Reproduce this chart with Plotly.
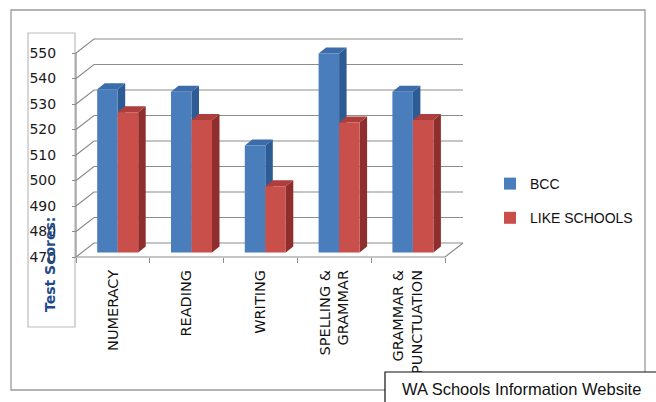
import plotly.graph_objects as go

# ---- data -------------------------------------------------------------
categories = ["NUMERACY", "READING", "WRITING",
              "SPELLING &<br>GRAMMAR", "GRAMMAR &<br>PUNCTUATION"]
bcc_scores = [534, 533, 512, 548, 533]
like_school_scores = [525, 522, 496, 521, 522]
score_ticks = [470, 480, 490, 500, 510, 520, 530, 540, 550]
series_names = ["BCC", "LIKE SCHOOLS"]

# ---- page / pseudo-3D projection settings ------------------------------
W, H = 656, 402
PX_PER_CAT = 73.8          # horizontal pixels per category slot
PX_PER_UNIT = 2.55         # vertical pixels per score point
AXIS_X_PX, FLOOR_Y_PX = 76, 257
Y_MIN = score_ticks[0]
Y_MAX = score_ticks[-1]

x_range = [-0.5 - AXIS_X_PX / PX_PER_CAT, -0.5 + (W - AXIS_X_PX) / PX_PER_CAT]
y_range = [Y_MIN - (H - FLOOR_Y_PX) / PX_PER_UNIT, Y_MIN + FLOOR_Y_PX / PX_PER_UNIT]

# depth of the back wall, and of the plane the columns stand in
WALL_DX, WALL_DY = 18 / PX_PER_CAT, 14 / PX_PER_UNIT
BAR_OX, BAR_OY = 0.065, 4.5 / PX_PER_UNIT
BAR_W = 20.5 / PX_PER_CAT
BAR_DX, BAR_DY = 7.5 / PX_PER_CAT, 6 / PX_PER_UNIT

n = len(categories)
left, right = -0.5, n - 0.5

GRID = "#8C8C8C"
COLORS = {
    "BCC": ("#4A7DBB", "#2D5C94", "#3C6DAA"),
    "LIKE SCHOOLS": ("#C94F4B", "#8F2F2D", "#AE3E3B"),
}

fig = go.Figure()

# back wall grid lines with the diagonal on the side wall
gx, gy = [], []
for v in score_ticks:
    gx += [left, left + WALL_DX, right + WALL_DX, None]
    gy += [v, v + WALL_DY, v + WALL_DY, None]
# floor front edge and right diagonal, plus the value axis line
gx += [left, right, right + WALL_DX, None, left, left]
gy += [Y_MIN, Y_MIN, Y_MIN + WALL_DY, None, Y_MIN, Y_MAX]
fig.add_trace(go.Scatter(x=gx, y=gy, mode="lines", line=dict(color=GRID, width=1.2),
                         hoverinfo="skip", showlegend=False, zorder=0))

base = Y_MIN + BAR_OY
for k, (name, vals) in enumerate(zip(series_names, [bcc_scores, like_school_scores])):
    front, side, top = COLORS[name]
    off = BAR_OX - BAR_W if k == 0 else BAR_OX
    sx, sy, tx, ty = [], [], [], []
    for i, v in enumerate(vals):
        x0 = i + off
        x1 = x0 + BAR_W
        t = v + BAR_OY
        sx += [x1, x1 + BAR_DX, x1 + BAR_DX, x1, x1, None]
        sy += [base, base + BAR_DY, t + BAR_DY, t, base, None]
        tx += [x0, x1, x1 + BAR_DX, x0 + BAR_DX, x0, None]
        ty += [t, t, t + BAR_DY, t + BAR_DY, t, None]
    z = 1 + 2 * k
    fig.add_trace(go.Scatter(x=sx, y=sy, fill="toself", fillcolor=side, mode="lines",
                             line=dict(width=0, color=side), hoverinfo="skip",
                             showlegend=False, zorder=z))
    fig.add_trace(go.Scatter(x=tx, y=ty, fill="toself", fillcolor=top, mode="lines",
                             line=dict(width=0, color=top), hoverinfo="skip",
                             showlegend=False, zorder=z))
    fig.add_trace(go.Bar(x=list(range(n)), y=[v - Y_MIN for v in vals], base=base,
                         offset=off, width=BAR_W, name=name,
                         marker=dict(color=front, line=dict(width=0)),
                         legendgroup=name, zorder=z + 1,
                         hovertemplate="%{customdata}<extra></extra>",
                         customdata=vals))

# category labels live on an overlaid axis
fig.add_trace(go.Scatter(x=list(range(n)), y=[None] * n, xaxis="x2", mode="markers",
                         showlegend=False, hoverinfo="skip"))

def px(x):
    return x / W

def py(y):
    return 1 - y / H

axis_pos_y = py(FLOOR_Y_PX)

fig.update_layout(
    width=W, height=H,
    margin=dict(l=0, r=0, t=0, b=0),
    paper_bgcolor="white", plot_bgcolor="rgba(0,0,0,0)",
    barmode="overlay",
    font=dict(family="DejaVu Sans", size=14, color="#1A1A1A"),
    xaxis=dict(domain=[0, 1], range=x_range, anchor="free", position=axis_pos_y,
               tickvals=[left + i for i in range(n + 1)], ticktext=[""] * (n + 1),
               ticks="outside", ticklen=5, tickcolor=GRID, tickwidth=1.2,
               showgrid=False, zeroline=False, showline=False, fixedrange=True),
    xaxis2=dict(overlaying="x", range=x_range, anchor="free", position=axis_pos_y,
                tickvals=list(range(n)), ticktext=categories, tickangle=-90,
                ticks="", ticklabelstandoff=9,
                tickfont=dict(family="DejaVu Sans", size=14.5, color="#111111"),
                showgrid=False, zeroline=False, showline=False, fixedrange=True),
    yaxis=dict(domain=[0, 1], range=y_range, anchor="free", position=px(AXIS_X_PX),
               tickvals=score_ticks, ticks="outside", ticklen=4, tickcolor=GRID,
               tickwidth=1.2, ticklabelstandoff=13,
               tickfont=dict(family="DejaVu Sans", size=14, color="#1A1A1A"),
               showgrid=False, zeroline=False, showline=False, fixedrange=True),
    legend=dict(x=px(490), y=py(168), xanchor="left", yanchor="top",
                traceorder="grouped", tracegroupgap=13,
                font=dict(family="Liberation Sans", size=14, color="#111111"),
                bgcolor="rgba(0,0,0,0)"),
    showlegend=True,
    shapes=[
        dict(type="rect", xref="paper", yref="paper", x0=px(11), x1=px(645),
             y0=py(390), y1=py(10), line=dict(color="#9A9A9A", width=1.3), layer="below"),
        dict(type="rect", xref="paper", yref="paper", x0=px(28), x1=px(75),
             y0=py(327), y1=py(33), line=dict(color="#BDBDBD", width=1.2), layer="below"),
        dict(type="rect", xref="paper", yref="paper", x0=px(385), x1=px(664),
             y0=py(405), y1=py(372), fillcolor="white", opacity=1,
             line=dict(color="#111111", width=1.2), layer="above"),
    ],
    annotations=[
        dict(text="<b>Test Scores:</b>", x=px(50), y=py(265), xref="paper", yref="paper",
             xanchor="center", yanchor="middle", textangle=-90, showarrow=False,
             font=dict(family="DejaVu Sans", size=14, color="#1F4A8A")),
        dict(text="WA Schools Information Website", x=px(521), y=py(388.5),
             xref="paper", yref="paper", xanchor="center", yanchor="middle",
             showarrow=False,
             font=dict(family="Liberation Sans", size=16.5, color="#111111")),
    ],
)

fig.write_html("out.html")
